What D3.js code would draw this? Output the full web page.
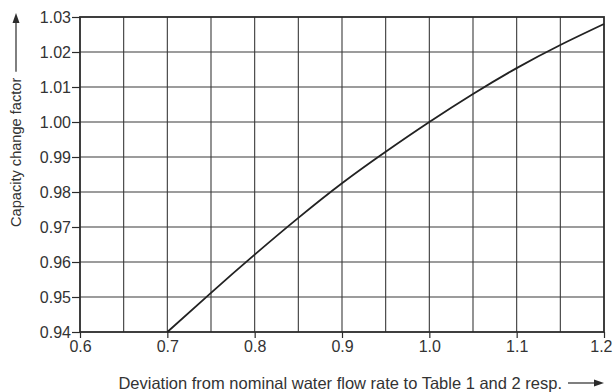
<!DOCTYPE html>
<html>
<head>
<meta charset="utf-8">
<script src="https://cdn.jsdelivr.net/npm/d3@7"></script>
<style>
  body { margin: 0; background: #fff; }
  svg { display: block; font-family: "Liberation Sans", Arial, sans-serif; }
</style>
</head>
<body>
<div id="chart"></div>
<script>
// flow rate deviation vs capacity change factor
const flowRate = [0.7, 0.75, 0.8, 0.85, 0.9, 0.95, 1.0, 1.05, 1.1, 1.15, 1.2];
const capacityFactor = [0.94, 0.9512, 0.9621, 0.9726, 0.9825, 0.9915, 1.0, 1.008, 1.0154, 1.022, 1.028];

const xTicks = [0.6, 0.7, 0.8, 0.9, 1.0, 1.1, 1.2];
const xGrid = [0.65, 0.7, 0.75, 0.8, 0.85, 0.9, 0.95, 1.0, 1.05, 1.1, 1.15];
const yTicks = [0.94, 0.95, 0.96, 0.97, 0.98, 0.99, 1.00, 1.01, 1.02, 1.03];

const xTitle = 'Deviation from nominal water flow rate to Table 1 and 2 resp.';
const yTitle = 'Capacity change factor';

const W = 613, H = 392;
const margin = { top: 17, right: 9, bottom: 60, left: 80 };
const width = W - margin.left - margin.right;
const height = H - margin.top - margin.bottom;
const ink = '#2b2b2b';

const svg = d3.select('#chart').append('svg')
    .attr('width', W)
    .attr('height', H);

const g = svg.append('g')
    .attr('transform', `translate(${margin.left},${margin.top})`);

const x = d3.scaleLinear().domain([0.6, 1.2]).range([0, width]);
const y = d3.scaleLinear().domain([0.94, 1.03]).range([height, 0]);

// grid
g.append('g').selectAll('line').data(xGrid).join('line')
    .attr('x1', d => x(d)).attr('x2', d => x(d))
    .attr('y1', 0).attr('y2', height)
    .attr('stroke', '#3a3a3a').attr('stroke-width', 1.1);

g.append('g').selectAll('line').data(yTicks.slice(1, -1)).join('line')
    .attr('x1', 0).attr('x2', width)
    .attr('y1', d => y(d)).attr('y2', d => y(d))
    .attr('stroke', '#3a3a3a').attr('stroke-width', 1.1);

// axes
const xAxis = g.append('g')
    .attr('transform', `translate(0,${height})`)
    .call(d3.axisBottom(x).tickValues(xTicks).tickFormat(d3.format('.1f')).tickSizeOuter(0).tickSize(6).tickPadding(3));

const yAxis = g.append('g')
    .call(d3.axisLeft(y).tickValues(yTicks).tickFormat(d3.format('.2f')).tickSizeOuter(0).tickSize(8).tickPadding(1));

[xAxis, yAxis].forEach(a => {
    a.select('.domain').remove();
    a.selectAll('.tick line').attr('stroke', ink).attr('stroke-width', 1.2);
    a.selectAll('.tick text').attr('fill', '#333').style('font-size', '16px');
});
yAxis.selectAll('.tick text').attr('dy', '0.36em');
// last x label sits against the right edge, as in the original
xAxis.selectAll('.tick text').filter(d => d === 1.2)
    .attr('text-anchor', 'end').attr('x', 8);

// frame
g.append('rect')
    .attr('width', width).attr('height', height)
    .attr('fill', 'none').attr('stroke', ink).attr('stroke-width', 1.8);

// curve
const line = d3.line()
    .x((d, i) => x(flowRate[i]))
    .y(d => y(d))
    .curve(d3.curveNatural);

g.append('path')
    .datum(capacityFactor)
    .attr('fill', 'none')
    .attr('stroke', '#222')
    .attr('stroke-width', 1.8)
    .attr('d', line);

// x title with arrow
svg.append('text')
    .attr('x', 562).attr('y', 389)
    .attr('text-anchor', 'end')
    .attr('fill', '#333')
    .style('font-size', '16.5px')
    .text(xTitle);

svg.append('line')
    .attr('x1', 568).attr('x2', 596)
    .attr('y1', 383).attr('y2', 383)
    .attr('stroke', ink).attr('stroke-width', 1.2);
svg.append('path')
    .attr('d', 'M604,383 L594,379.5 L594,386.5 Z')
    .attr('fill', ink);

// y title with arrow
const yt = svg.append('text')
    .attr('transform', 'translate(21,227) rotate(-90)')
    .attr('fill', '#333')
    .style('font-size', '14.6px')
    .text(yTitle);

const yEnd = 227 - yt.node().getComputedTextLength() - 6;
svg.append('line')
    .attr('x1', 16).attr('x2', 16)
    .attr('y1', yEnd).attr('y2', 22)
    .attr('stroke', ink).attr('stroke-width', 1.2);
svg.append('path')
    .attr('d', 'M16,13 L12.5,23 L19.5,23 Z')
    .attr('fill', ink);
</script>
</body>
</html>
